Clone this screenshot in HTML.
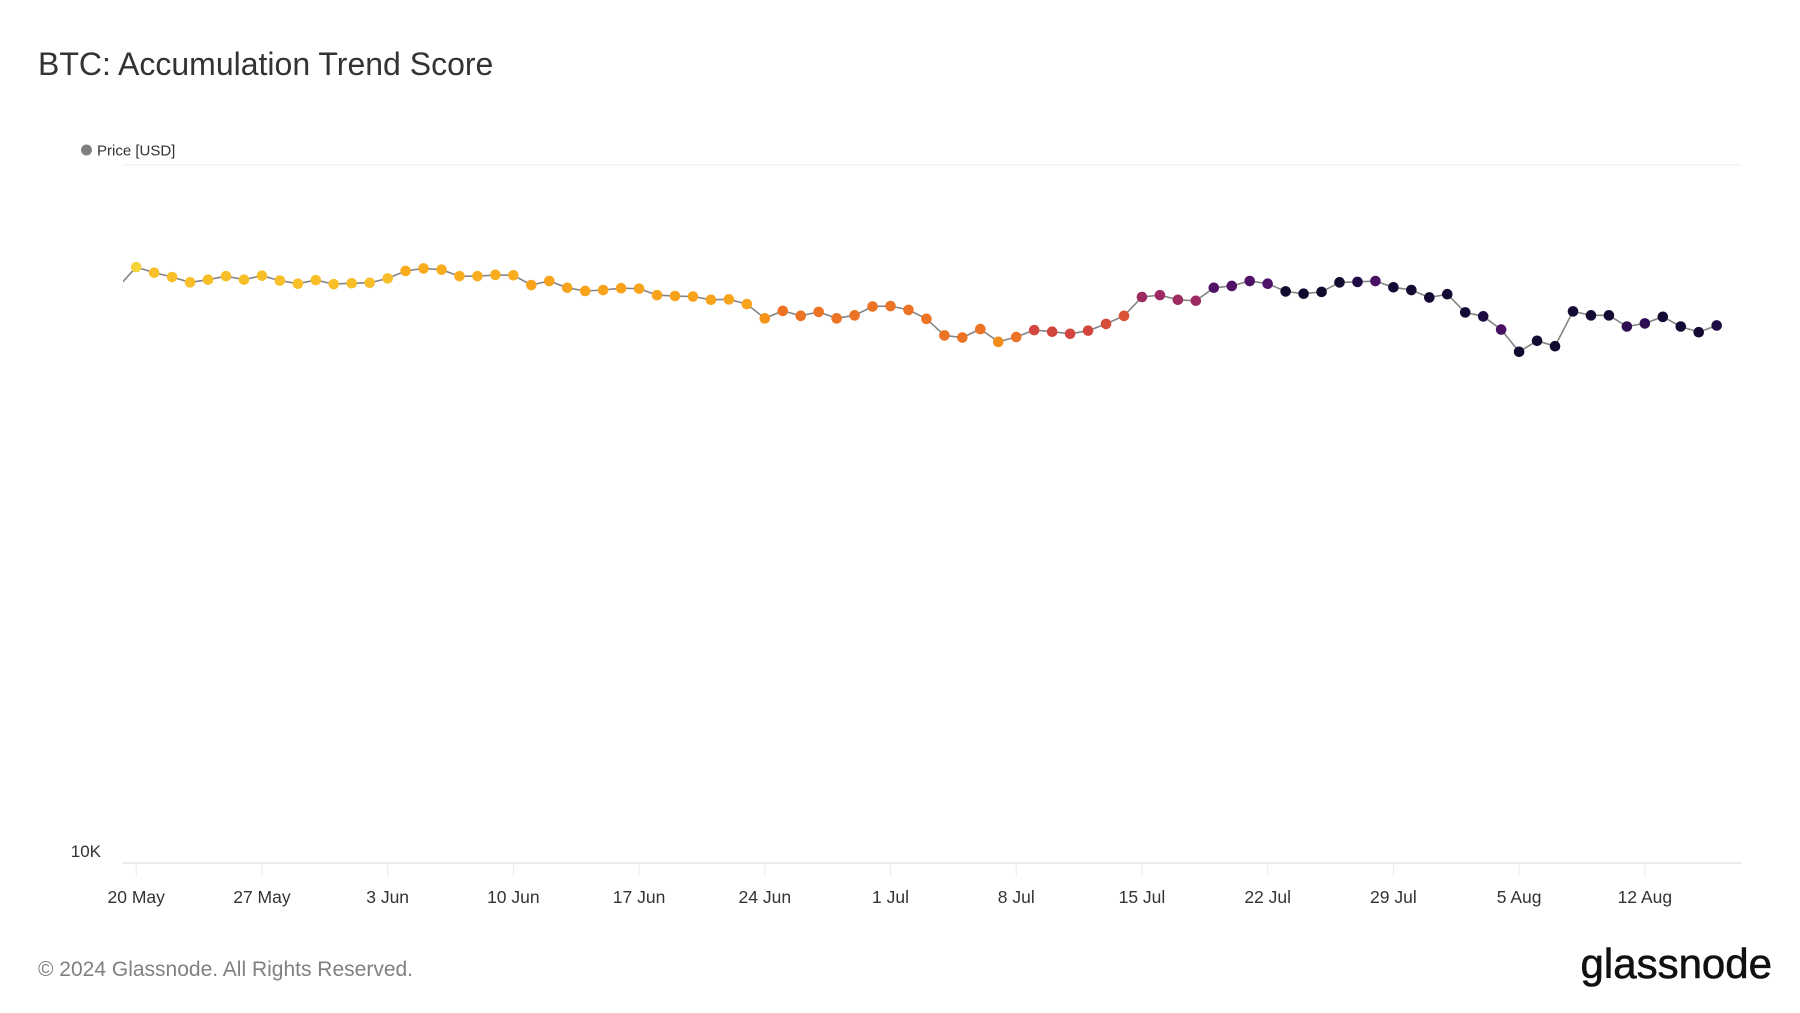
<!DOCTYPE html>
<html><head><meta charset="utf-8"><style>
html,body{margin:0;padding:0;background:#fff;}
body{width:1800px;height:1013px;overflow:hidden;font-family:"Liberation Sans",sans-serif;}
svg{display:block}
</style></head><body>
<svg id="chart" width="1800" height="1013" viewBox="0 0 1800 1013">
<text x="38" y="75" font-size="32" fill="#333">BTC: Accumulation Trend Score</text>
<g>
<circle cx="86.5" cy="150" r="5.5" fill="#808080"></circle>
<text x="97" y="155.5" font-size="15" fill="#333">Price [USD]</text>
</g>
<text x="38" y="976" font-size="21" fill="#808080">© 2024 Glassnode. All Rights Reserved.</text>
<text x="1772" y="978" font-size="42" fill="#111" text-anchor="end" stroke="#111" stroke-width="0.6">glassnode</text>
<g id="grid"></g><g id="xaxis"></g><g id="yaxis"></g>
<defs><clipPath id="plotclip"><rect x="123" y="150" width="1618" height="730"></rect></clipPath></defs>
<g id="series" clip-path="url(#plotclip)"></g>
</svg>
<script>
const startDate = "2024-05-19";
const prices = [66.9,71.4,70.1,69.1,67.9,68.5,69.3,68.5,69.4,68.3,67.6,68.4,67.5,67.7,67.8,68.8,70.5,71.1,70.8,69.3,69.3,69.6,69.5,67.3,68.2,66.7,66.0,66.2,66.6,66.5,65.1,64.9,64.8,64.1,64.2,63.2,60.3,61.8,60.8,61.6,60.3,60.9,62.7,62.8,62.0,60.2,57.0,56.6,58.2,55.8,56.7,58.0,57.7,57.3,57.9,59.2,60.8,64.7,65.1,64.1,63.9,66.7,67.1,68.2,67.6,65.9,65.4,65.8,67.9,68.0,68.2,66.8,66.2,64.6,65.3,61.5,60.7,58.1,54.0,56.0,55.0,61.7,60.9,60.9,58.7,59.3,60.6,58.7,57.6,58.9];
const scores = [1.0,1.0,0.95,0.95,0.95,0.95,0.95,0.95,0.95,0.95,0.95,0.95,0.95,0.95,0.95,0.95,0.9,0.9,0.9,0.9,0.9,0.9,0.9,0.86,0.86,0.86,0.86,0.86,0.86,0.86,0.86,0.86,0.86,0.86,0.86,0.86,0.8,0.7,0.7,0.7,0.7,0.7,0.7,0.7,0.7,0.7,0.7,0.7,0.7,0.78,0.7,0.58,0.58,0.58,0.58,0.6,0.62,0.45,0.45,0.45,0.45,0.3,0.3,0.3,0.3,0.03,0.03,0.03,0.03,0.15,0.28,0.05,0.05,0.05,0.05,0.05,0.12,0.28,0.03,0.03,0.03,0.05,0.05,0.05,0.2,0.2,0.05,0.05,0.05,0.15];
const xTickLabels = ["20 May","27 May","3 Jun","10 Jun","17 Jun","24 Jun","1 Jul","8 Jul","15 Jul","22 Jul","29 Jul","5 Aug","12 Aug"];
const xTickDays = [1,8,15,22,29,36,43,50,57,64,71,78,85];
const yTicks = [10];
const yTickLabels = ["10K"];

const DX = 17.96, X0 = 136.2 - DX;
function xScale(i){ return X0 + i*DX; }
const Y10 = 863, Y100 = 165;
function yScale(k){ return Y10 - Math.log10(k/10)*(Y10-Y100); }
const stops = [[0,"#0f0a2a"],[0.15,"#1e0b45"],[0.3,"#4f1269"],[0.45,"#9e2a62"],[0.58,"#d2463f"],[0.7,"#ec7224"],[0.8,"#f59418"],[0.9,"#f9ad1e"],[0.95,"#f9bf28"],[1,"#f5d43a"]];
function hex(c){return [1,3,5].map(i=>parseInt(c.substr(i,2),16));}
function color(s){
  for(let i=1;i<stops.length;i++){ if(s<=stops[i][0]){const a=stops[i-1],b=stops[i];const t=(s-a[0])/(b[0]-a[0]);const ca=hex(a[1]),cb=hex(b[1]);return "rgb("+ca.map((v,j)=>Math.round(v+(cb[j]-v)*t)).join(",")+")";}}
  return stops[stops.length-1][1];
}
const NS="http://www.w3.org/2000/svg";
const grid=document.getElementById('grid'),xa=document.getElementById('xaxis'),ya=document.getElementById('yaxis'),ser=document.getElementById('series');
let gl=document.createElementNS(NS,'line');
gl.setAttribute('x1',123);gl.setAttribute('x2',1741);gl.setAttribute('y1',Y100);gl.setAttribute('y2',Y100);gl.setAttribute('stroke','#f0f0f0');gl.setAttribute('stroke-width','1.2');


grid.appendChild(gl);
let ax=document.createElementNS(NS,'line');
ax.setAttribute('x1',123);ax.setAttribute('x2',1741);ax.setAttribute('y1',Y10);ax.setAttribute('y2',Y10);ax.setAttribute('stroke','#e6e6e6');ax.setAttribute('stroke-width','1.5');


xa.appendChild(ax);
xTickDays.forEach((d,i)=>{
  const x=xScale(d);
  const t=document.createElementNS(NS,'line');
  t.setAttribute('x1',x);t.setAttribute('x2',x);t.setAttribute('y1',Y10);t.setAttribute('y2',Y10+14);t.setAttribute('stroke','#ececec');
  
  
  xa.appendChild(t);
  const tx=document.createElementNS(NS,'text');
  tx.setAttribute('x',x);tx.setAttribute('y',903);tx.setAttribute('font-size','17.5');tx.setAttribute('fill','#333');tx.setAttribute('text-anchor','middle');
  tx.textContent=xTickLabels[i];
  
  
  xa.appendChild(tx);
});
yTicks.forEach((v,i)=>{
  const tx=document.createElementNS(NS,'text');
  tx.setAttribute('x',101);tx.setAttribute('y',yScale(v)-6);tx.setAttribute('font-size','17');tx.setAttribute('fill','#333');tx.setAttribute('text-anchor','end');
  tx.textContent=yTickLabels[i];
  
  
  ya.appendChild(tx);
});
const path=document.createElementNS(NS,'path');
path.setAttribute('d',prices.map((p,i)=>(i?'L':'M')+xScale(i).toFixed(1)+' '+yScale(p).toFixed(1)).join(' '));
path.setAttribute('fill','none');path.setAttribute('stroke','#858585');path.setAttribute('stroke-width','1.6');


ser.appendChild(path);
prices.forEach((p,i)=>{
  if(i===0) return;
  const c=document.createElementNS(NS,'circle');
  c.setAttribute('cx',xScale(i));c.setAttribute('cy',yScale(p));c.setAttribute('r','5.3');c.setAttribute('fill',color(scores[i]));
  
  
  ser.appendChild(c);
});
</script>
</body></html>
